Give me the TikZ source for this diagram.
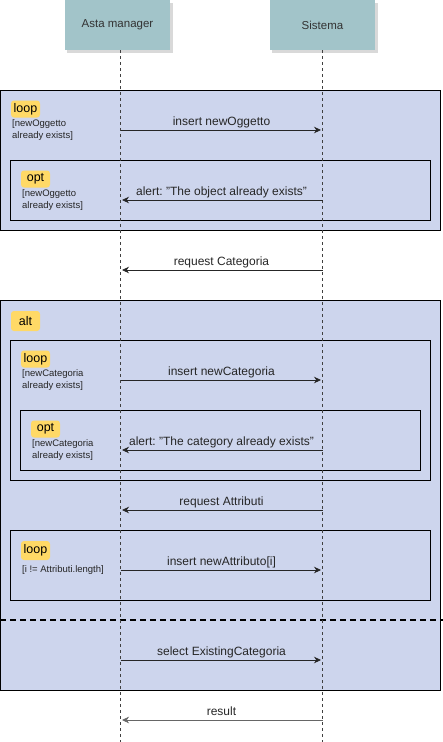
\documentclass[tikz,border=0pt]{standalone}
\usepackage{fontspec}
\setmainfont{Liberation Sans}
\usetikzlibrary{arrows.meta}
\frenchspacing

\definecolor{fragfill}{RGB}{205,213,237}
\definecolor{actorfill}{RGB}{162,196,201}
\definecolor{tagfill}{RGB}{255,217,102}

\begin{document}
\begin{tikzpicture}[x=1pt,y=-1pt,
        actor/.style={rectangle, fill=actorfill, minimum width=105pt, minimum height=50pt,
            inner sep=0pt, text=black!80, font=\fontsize{11.5}{14}\selectfont},
        frame/.style={draw=black, line width=0.8pt},
        tag/.style={fill=tagfill, rounded corners=3pt, minimum width=29pt, minimum height=17pt,
            inner sep=1pt, font=\fontsize{12.5}{14}\selectfont},
        guard/.style={anchor=north west, align=left, inner sep=0pt, text=black!85,
            font=\fontsize{9.5}{12}\selectfont},
        lifeline/.style={draw=black!75, line width=0.7pt, dash pattern=on 3pt off 3pt}]
    \useasboundingbox (0,0) rectangle (443,742);

    % fragments
    \fill[fragfill] (0,90.7) rectangle (440.5,230);
    \draw[frame] (0,90.7) rectangle (440.5,230);
    \draw[frame] (10.7,160) rectangle (430.7,220);
    \fill[fragfill] (0,300) rectangle (440.5,690);
    \draw[frame] (0,300) rectangle (440.5,690);
    \draw[frame] (10.7,340) rectangle (430.7,480);
    \draw[frame] (20.7,410) rectangle (420.7,470);
    \draw[frame] (10.7,530) rectangle (430.7,600);
    \draw[line width=1.6pt, dash pattern=on 6pt off 4pt] (0,620) -- (443,620);

    % participants
    \fill[black!15] (67,2.5) rectangle (172.5,52.5);
    \fill[black!15] (272,2.5) rectangle (377.5,52.5);
    \node[actor] (AM) at (117.5,25) {Asta manager};
    \node[actor] (SI) at (322.5,25) {Sistema};

    \coordinate (AMend) at (120.5,742);
    \coordinate (SIend) at (322.5,742);
    \draw[lifeline] (AM.south -| AMend) -- (AMend);
    \draw[lifeline] (SI.south) -- (SIend);

    % tags and guards
    \node[tag] (loopA) at (25.5,109) {loop};
    \node[guard] (gLoopA) at (12,119) {[newOggetto\\already exists]};
    \node[tag] (optA) at (35.5,179) {opt};
    \node[guard] (gOptA) at (22,189) {[newOggetto\\already exists]};
    \node[tag, minimum height=20pt] (altB) at (25.5,321) {alt};
    \node[tag] (loopB) at (35.5,359) {loop};
    \node[guard] (gLoopB) at (22,369) {[newCategoria\\already exists]};
    \node[tag] (optB) at (45.5,429) {opt};
    \node[guard] (gOptB) at (32,439) {[newCategoria\\already exists]};
    \node[tag, minimum height=19pt] (loopC) at (35.5,550.5) {loop};
    \node[guard] (gLoopC) at (22,565) {[i != Attributi.length]};

    % message ends
    \coordinate (am1) at (120.5,130);  \coordinate (si1) at (322.5,130);
    \coordinate (am2) at (120.5,200);  \coordinate (si2) at (322.5,200);
    \coordinate (am3) at (120.5,270);  \coordinate (si3) at (322.5,270);
    \coordinate (am4) at (120.5,380);  \coordinate (si4) at (322.5,380);
    \coordinate (am5) at (120.5,450);  \coordinate (si5) at (322.5,450);
    \coordinate (am6) at (120.5,510);  \coordinate (si6) at (322.5,510);
    \coordinate (am7) at (120.5,570);  \coordinate (si7) at (322.5,570);
    \coordinate (am8) at (120.5,660);  \coordinate (si8) at (322.5,660);
    \coordinate (am9) at (120.5,720);  \coordinate (si9) at (322.5,720);

    \begin{scope}[>={Stealth[length=7pt,width=6.5pt]},
            every node/.style={above, inner sep=1.5pt, text depth=3pt, text height=9pt,
                text=black!85, font=\fontsize{12}{14}\selectfont},
            every edge/.style={draw=black!85, line width=0.8pt, ->, shorten >=1.5pt}]
        \path (am1) edge node {insert newOggetto} (si1);
        \path (si2) edge node {alert: "The object already exists"} (am2);
        \path (si3) edge node {request Categoria} (am3);
        \path (am4) edge node {insert newCategoria} (si4);
        \path (si5) edge node {alert: "The category already exists"} (am5);
        \path (si6) edge node {request Attributi} (am6);
        \path (am7) edge node {insert newAttributo[i]} (si7);
        \path (am8) edge node {select ExistingCategoria} (si8);
        \path (si9) edge[draw=black!60, line width=0.5pt] node {result} (am9);
    \end{scope}
\end{tikzpicture}
\end{document}
